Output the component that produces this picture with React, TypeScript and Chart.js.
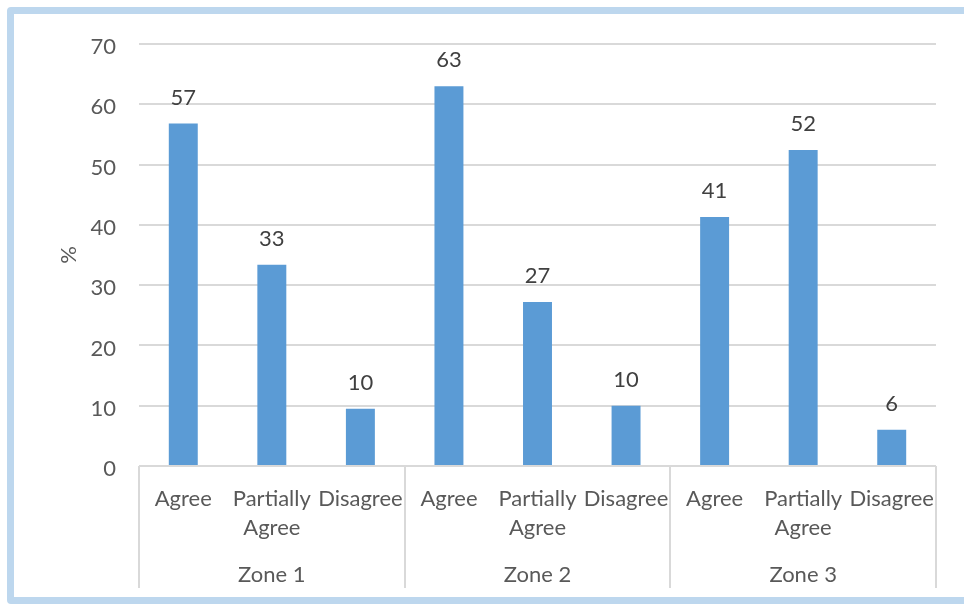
import React, { useEffect, useRef } from "react";
import { Chart, registerables } from "chart.js";

Chart.register(...registerables);

const zones = ["Zone 1", "Zone 2", "Zone 3"];
const responses = ["Agree", "Partially Agree", "Disagree"];
const categories = zones.flatMap(() => responses);
const values = [56.8, 33.4, 9.5, 63.0, 27.2, 10.0, 41.3, 52.4, 6.0];
const yMin = 0;
const yMax = 70;
const yStep = 10;
const yTitle = "%";

const FONT = "Lato";
const TICK_COLOR = "#595959";
const LABEL_COLOR = "#404040";
const GRID = "#D9D9D9";
const BAR = "#5B9BD5";

const decorPlugin = {
  id: "decor",
  afterDraw(chart: any) {
    const { ctx, chartArea } = chart;
    const x = chart.scales.x;
    const n = categories.length;
    const per = responses.length;
    ctx.save();
    // group separators
    ctx.strokeStyle = GRID;
    ctx.lineWidth = 2;
    const step = (chartArea.right - chartArea.left) / n;
    for (let g = 0; g <= zones.length; g++) {
      const px = Math.round(chartArea.left + g * per * step);
      ctx.beginPath();
      ctx.moveTo(px, chartArea.bottom);
      ctx.lineTo(px, chartArea.bottom + 122);
      ctx.stroke();
    }
    // zone labels
    ctx.fillStyle = TICK_COLOR;
    ctx.font = `22px ${FONT}`;
    ctx.textAlign = "center";
    ctx.textBaseline = "alphabetic";
    zones.forEach((z, g) => {
      const a = x.getPixelForValue(g * per);
      const b = x.getPixelForValue(g * per + per - 1);
      ctx.fillText(z, (a + b) / 2, chartArea.bottom + 116);
    });
    // data labels
    ctx.fillStyle = LABEL_COLOR;
    const meta = chart.getDatasetMeta(0);
    meta.data.forEach((bar: any, i: number) => {
      ctx.fillText(String(Math.round(values[i])), bar.x, bar.y - 19);
    });
    // y title
    ctx.fillStyle = TICK_COLOR;
    ctx.translate(69, (chartArea.top + chartArea.bottom) / 2);
    ctx.rotate(-Math.PI / 2);
    ctx.textBaseline = "middle";
    ctx.fillText(yTitle, 0, 0);
    ctx.restore();
  },
};

export default function App() {
  const ref = useRef<HTMLCanvasElement>(null);
  useEffect(() => {
    if (!ref.current) return;
    Chart.defaults.font.family = FONT;
    const chart = new Chart(ref.current, {
      type: "bar",
      data: {
        labels: categories,
        datasets: [
          {
            data: values,
            backgroundColor: BAR,
            borderWidth: 0,
            categoryPercentage: 1,
            barPercentage: 0.327,
          },
        ],
      },
      options: {
        animation: false,
        responsive: true,
        maintainAspectRatio: false,
        layout: { padding: { left: 0, top: 44, right: 28, bottom: 0 } },
        plugins: { legend: { display: false }, tooltip: { enabled: false } },
        scales: {
          x: {
            grid: { display: false },
            border: { display: false },
            ticks: {
              color: TICK_COLOR,
              font: { size: 22, family: FONT, lineHeight: 29 / 22 },
              padding: 10,
              maxRotation: 0,
              autoSkip: false,
              callback: (_v: any, i: number) => categories[i].split(" "),
            },
            afterFit: (s: any) => {
              s.height = 138;
            },
          },
          y: {
            min: yMin,
            max: yMax,
            border: { display: false },
            grid: { color: GRID, lineWidth: 2, drawTicks: false },
            ticks: {
              stepSize: yStep,
              color: TICK_COLOR,
              font: { size: 22, family: FONT },
              padding: 23,
              labelOffset: 3,
            },
            afterFit: (s: any) => {
              s.width = 139;
            },
          },
        },
      },
      plugins: [decorPlugin],
    });
    return () => chart.destroy();
  }, []);

  return (
    <div
      style={{
        position: "fixed",
        left: 0,
        top: 0,
        width: 964,
        height: 604,
        overflow: "hidden",
        background: "#fff",
      }}
    >
      <div
        style={{
          position: "absolute",
          left: 7,
          top: 7,
          width: 1000,
          height: 597,
          border: "7px solid #BDD7EE",
          borderRadius: 4,
          boxSizing: "border-box",
        }}
      />
      <div style={{ position: "absolute", left: 0, top: 0, width: 964, height: 604 }}>
        <canvas ref={ref} />
      </div>
    </div>
  );
}
